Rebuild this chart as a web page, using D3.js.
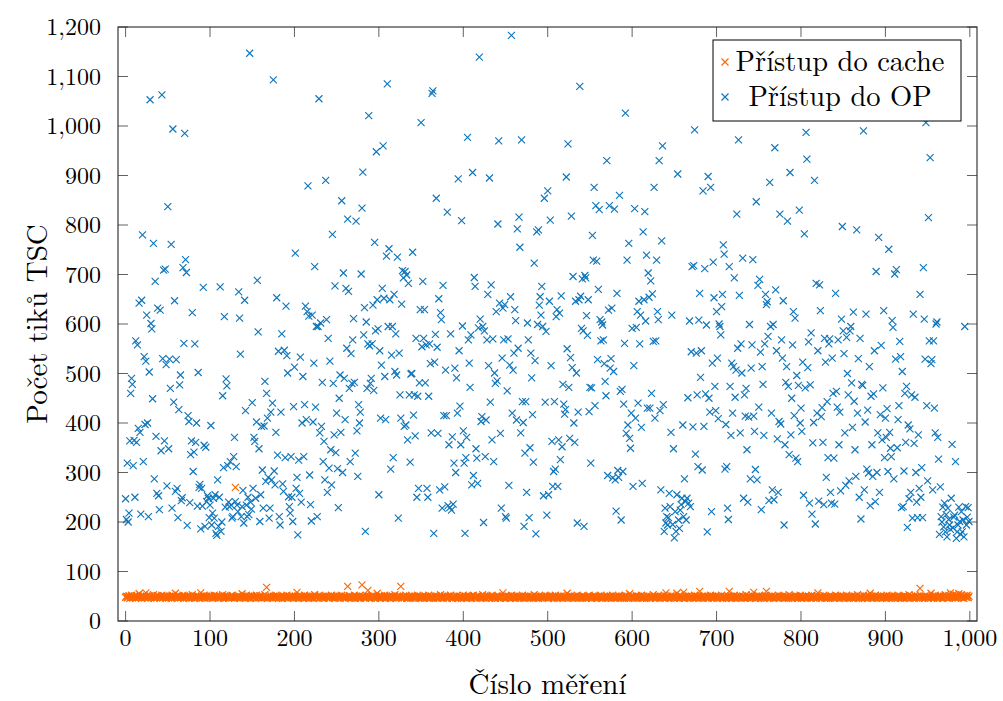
<!DOCTYPE html>
<html>
<head>
<meta charset="utf-8">
<script src="https://cdn.jsdelivr.net/npm/d3@7"></script>
<style>
	body {
		margin: 0;
		background: #fff;
	}

	.frame {
		fill: none;
		stroke: #262626;
		stroke-width: 1.1px;
	}

	.tick-mark {
		stroke: #505050;
		stroke-width: 0.9px;
	}

	.cross {
		fill: none;
		stroke-width: 1.15px;
	}

	.legend-box {
		fill: #fff;
		stroke: #000;
		stroke-width: 1px;
	}
</style>
</head>
<body>
<div id="chart"></div>
<script>
	// TSC ticks per measurement, index = measurement number
	const cacheTsc = [
		48,50,47,49,51,46,48,52,47,49,50,48,46,51,49,47,55,48,50,46,49,52,48,47,57,50,46,48,49,51,47,48,50,53,46,49,48,47,51,50,48,46,49,52,47,48,50,49,46,51,
		48,47,50,49,46,52,48,50,47,56,49,48,46,51,50,47,49,48,52,46,50,48,47,49,51,46,48,50,47,53,49,48,46,50,47,51,48,49,46,57,50,47,48,52,46,49,50,47,48,51,
		47,49,50,46,48,52,47,49,51,48,46,50,47,49,48,53,46,50,48,47,51,49,46,48,50,47,52,48,49,46,270,48,50,47,51,46,49,48,55,47,50,48,46,52,49,47,50,48,46,51,
		49,47,48,50,46,52,48,49,47,51,50,46,48,49,47,53,48,68,46,50,49,47,51,48,46,50,49,47,52,48,50,46,49,48,47,51,46,50,49,48,47,52,46,49,50,48,47,51,49,46,
		48,50,47,58,49,46,51,48,50,47,49,46,52,48,47,50,49,46,51,48,47,50,48,46,53,49,47,48,50,46,52,49,48,47,50,46,49,51,48,47,50,46,48,49,52,47,48,50,46,49,
		51,47,48,50,46,49,52,48,47,50,46,49,48,70,47,51,50,46,48,49,47,52,46,50,48,49,47,51,46,48,73,50,47,49,46,52,48,62,50,47,49,46,51,48,50,47,46,49,56,48,
		50,47,46,51,49,48,47,52,46,50,48,49,47,51,46,48,50,47,49,53,46,48,50,47,49,51,70,46,48,50,47,49,52,46,48,47,50,49,46,51,48,47,50,46,49,48,52,47,50,46,
		49,48,47,51,46,50,48,49,47,52,46,48,50,47,49,46,51,48,50,47,46,49,48,53,47,50,46,48,51,49,47,46,50,48,49,52,47,46,48,50,49,47,51,46,48,50,47,49,46,48,
		52,47,49,50,46,48,51,47,49,48,46,50,52,47,48,49,46,51,50,47,48,46,49,53,47,50,48,46,51,49,47,48,50,46,52,48,49,47,46,50,48,51,47,49,46,48,50,57,47,49,
		46,51,48,50,47,49,46,52,48,47,50,49,46,51,48,47,50,46,49,48,52,47,46,50,48,49,47,51,46,48,50,47,49,46,53,48,50,47,49,46,51,48,47,50,46,49,48,52,47,50,
		48,46,49,51,47,48,50,46,49,52,47,48,46,50,49,47,51,48,46,50,49,47,48,56,46,50,49,47,51,48,46,49,50,47,48,52,46,49,48,47,50,46,51,48,49,47,46,50,48,52,
		47,49,46,48,50,47,51,49,46,48,50,47,49,52,46,48,47,50,49,46,51,48,47,49,50,46,48,52,47,49,46,50,48,47,51,49,46,48,50,47,49,46,52,48,50,47,46,55,49,48,
		50,46,48,49,47,51,46,50,48,49,47,52,46,48,50,47,49,46,51,48,50,47,46,49,48,53,47,50,46,48,49,51,47,46,50,48,49,47,52,46,57,48,50,47,49,46,51,48,50,47,
		46,49,48,56,47,50,46,52,48,49,47,58,46,50,48,49,47,51,46,48,50,47,49,46,52,48,47,50,49,46,60,48,47,50,46,49,51,48,47,50,46,49,48,52,47,50,46,49,48,51,
		47,46,50,48,49,47,52,46,48,50,47,49,46,51,48,60,47,50,46,49,48,52,47,46,50,49,48,47,51,46,48,50,47,49,46,53,48,47,50,49,46,48,52,47,58,49,46,50,48,47,
		51,49,46,48,50,47,49,46,52,60,48,47,50,46,49,48,51,47,46,50,49,48,47,52,46,50,48,49,47,51,46,48,50,47,49,46,53,48,50,47,46,49,48,51,47,50,46,49,48,52,
		47,46,50,48,49,47,51,46,48,50,47,49,46,52,48,47,50,49,46,51,57,48,47,50,46,49,48,52,47,50,46,48,49,47,51,46,50,48,49,47,46,52,48,50,47,49,46,51,48,47,
		50,46,49,48,52,47,50,46,48,49,47,51,46,48,50,47,49,53,46,48,50,47,49,46,52,48,47,50,49,46,51,48,56,47,50,46,49,48,52,47,46,50,48,49,47,51,46,48,50,47,
		49,46,52,48,47,50,49,46,51,48,47,50,46,49,48,52,47,50,46,48,49,47,51,46,50,48,49,47,53,46,48,50,47,49,46,52,48,47,50,49,46,66,48,50,47,49,46,51,48,50,
		47,46,49,48,56,47,50,46,48,52,49,47,46,50,48,51,49,47,46,50,48,53,47,49,46,51,48,57,50,47,49,54,48,46,52,50,47,55,49,48,53,47,50,46,51,49,48,52,47,50
	];

	const opTsc = [
		247,205,319,200,218,364,460,490,478,314,365,250,566,361,558,389,642,381,216,648,780,322,534,397,525,618,400,211,503,1053,601,590,449,763,287,686,373,258,632,253,225,628,344,1063,530,709,364,711,518,273,
		837,348,529,470,761,228,994,442,647,262,528,268,209,427,477,497,243,249,714,561,985,730,704,193,415,403,239,336,364,623,302,341,560,361,400,232,502,270,276,186,268,232,674,355,191,351,241,253,248,209,
		234,395,194,218,248,208,255,177,173,285,191,250,675,181,200,455,310,615,230,489,475,314,240,231,322,234,208,211,332,371,241,312,234,221,665,612,539,211,231,264,198,648,425,234,211,250,215,1147,240,226,
		441,268,371,363,248,402,688,584,348,201,255,393,305,228,394,484,282,460,410,290,208,228,422,285,440,1093,303,275,381,653,335,545,211,194,422,580,277,262,547,330,636,536,501,251,231,218,332,250,201,433,
		513,743,268,290,174,325,258,533,240,400,494,332,437,636,407,625,879,616,295,235,202,618,402,521,716,432,595,211,595,1055,380,602,393,482,322,363,285,890,609,260,571,309,525,346,275,781,480,376,677,340,
		420,308,229,450,497,381,849,300,703,490,407,672,551,812,666,470,322,540,480,568,611,482,339,808,384,292,437,400,422,701,834,907,578,633,181,604,470,560,1021,556,480,490,560,638,466,765,586,948,649,590,
		255,546,410,517,672,960,652,494,407,737,1085,595,752,649,307,537,595,330,660,504,580,497,735,208,541,457,410,640,708,693,393,706,396,699,366,682,457,321,499,500,745,416,457,374,571,250,454,268,481,629,
		1007,554,686,571,629,481,558,268,250,454,560,520,380,1066,1071,177,523,579,854,553,379,651,265,623,609,228,678,415,271,507,415,826,233,356,229,580,224,372,236,319,511,300,491,420,893,546,434,356,809,596,
		384,319,177,330,371,977,568,521,472,578,275,906,294,694,676,348,329,278,592,1139,610,403,413,595,199,586,332,406,568,660,516,895,442,679,366,570,322,501,480,625,485,802,970,642,379,228,531,632,568,639,
		211,208,465,570,274,517,655,1183,420,507,541,629,607,406,792,551,816,755,380,972,443,401,191,339,443,260,602,568,209,350,541,491,417,321,723,526,176,786,599,790,638,655,618,676,595,253,854,442,585,214,
		869,255,646,810,516,363,272,302,443,307,615,629,272,366,622,326,657,352,478,438,418,427,897,550,964,472,369,532,818,512,696,400,361,646,501,198,422,649,1080,656,591,691,586,191,698,693,617,577,649,423,
		472,319,471,779,729,876,435,839,727,528,670,831,609,566,604,598,568,520,484,455,930,294,628,839,511,530,632,289,504,832,285,222,662,304,290,860,464,204,468,302,438,561,1026,379,729,396,763,369,349,420,
		591,272,516,833,410,593,625,440,646,560,618,391,278,786,649,827,606,739,430,703,654,430,687,460,661,565,876,410,566,729,625,609,930,425,265,768,960,437,181,228,198,211,194,209,258,231,381,618,195,348,
		168,221,181,255,903,204,187,224,235,248,396,211,287,241,204,248,451,238,606,231,544,716,392,718,992,337,541,457,312,608,662,492,546,305,869,393,712,459,598,180,898,450,422,876,221,521,725,653,474,425,
		625,531,409,600,595,578,635,660,760,741,307,397,312,228,205,716,474,375,521,420,514,693,452,507,822,551,972,658,380,560,501,733,248,457,414,470,346,240,412,599,287,511,558,730,414,383,306,847,285,678,
		432,690,543,225,514,478,375,560,660,639,645,575,243,886,595,420,265,599,245,956,669,546,368,260,403,822,398,568,531,647,194,356,482,514,808,474,336,906,376,450,558,625,415,612,329,496,322,476,830,400,
		430,383,523,254,782,471,987,933,512,564,238,477,582,216,360,401,890,196,682,420,546,242,679,627,413,431,361,235,571,523,290,443,330,560,570,260,238,531,460,329,236,662,464,432,568,356,422,263,610,797,
		586,540,380,274,573,500,457,283,586,595,481,391,624,444,346,292,790,420,530,250,571,206,478,476,990,265,402,620,307,426,299,514,233,454,356,292,459,546,241,706,300,380,775,260,417,557,366,471,627,330,
		410,371,429,302,751,381,349,332,607,593,287,701,529,710,350,407,435,565,534,229,504,231,303,460,361,474,189,396,247,388,260,457,208,620,359,452,300,240,209,376,268,660,250,310,209,714,610,529,1007,435,
		283,815,566,936,520,528,265,566,430,380,600,604,371,327,175,271,211,200,230,190,238,180,215,170,228,205,194,185,248,357,188,210,214,322,167,180,194,230,201,175,221,180,204,170,595,231,194,210,229,201
	];

	const xTicks = [0, 100, 200, 300, 400, 500, 600, 700, 800, 900, 1000];
	const yTicks = [0, 100, 200, 300, 400, 500, 600, 700, 800, 900, 1000, 1100, 1200];
	const seriesNames = ["Přístup do cache", "Přístup do OP"];
	const seriesColors = ["#ff6600", "#1076ba"];
	const xLabel = "Číslo měření";
	const yLabel = "Počet tiků TSC";

	const serif = "'Latin Modern Roman', 'CMU Serif', 'Liberation Serif', 'DejaVu Serif', serif";

	function crossPath(r) {
		return "M" + (-r) + "," + (-r) + "L" + r + "," + r +
			"M" + (-r) + "," + r + "L" + r + "," + (-r);
	}

	function label(parent, size) {
		return parent.append("text")
			.attr("font-family", serif)
			.style("font-family", serif)
			.style("font-size", size + "px")
			.style("fill", "#000");
	}

	function TscScatter() {
		var margin = {top: 27, right: 26, bottom: 80, left: 118};
		var width = 1003 - margin.left - margin.right;
		var height = 701 - margin.top - margin.bottom;
		var tickLen = 10;
		var markR = 3.5;

		var xScale = d3.scaleLinear().domain([-9, 1008.5]).range([0, width]);
		var yScale = d3.scaleLinear().domain([0, 1200]).range([height, 0]);
		var fmt = d3.format(",");

		function chart(selection) {
			selection.each(function() {
				const svg = d3.select(this);
				const g = svg.append("g")
					.attr("transform", "translate(" + margin.left + "," + margin.top + ")");

				g.append("defs").append("clipPath")
					.attr("id", "plot-clip")
					.append("rect")
					.attr("width", width)
					.attr("height", height);

				// data
				const marks = g.append("g").attr("clip-path", "url(#plot-clip)");
				[cacheTsc, opTsc].forEach(function(values, k) {
					marks.append("g")
						.selectAll("path")
						.data(values)
						.join("path")
						.attr("class", "cross")
						.attr("d", crossPath(markR))
						.attr("transform", (d, i) => "translate(" + xScale(i) + "," + yScale(d) + ")")
						.style("stroke", seriesColors[k]);
				});

				// ticks on all four sides, pointing in
				const ticks = g.append("g");
				xTicks.forEach(function(t) {
					const x = xScale(t);
					ticks.append("line").attr("class", "tick-mark")
						.attr("x1", x).attr("x2", x).attr("y1", height).attr("y2", height - tickLen);
					ticks.append("line").attr("class", "tick-mark")
						.attr("x1", x).attr("x2", x).attr("y1", 0).attr("y2", tickLen);
					label(g, 24)
						.attr("x", x)
						.attr("y", height + 25)
						.attr("text-anchor", "middle")
						.text(fmt(t));
				});
				yTicks.forEach(function(t) {
					const y = yScale(t);
					ticks.append("line").attr("class", "tick-mark")
						.attr("x1", 0).attr("x2", tickLen).attr("y1", y).attr("y2", y);
					ticks.append("line").attr("class", "tick-mark")
						.attr("x1", width).attr("x2", width - tickLen).attr("y1", y).attr("y2", y);
					label(g, 24)
						.attr("x", -17)
						.attr("y", y)
						.attr("dy", "0.34em")
						.attr("text-anchor", "end")
						.text(fmt(t));
				});

				g.append("rect")
					.attr("class", "frame")
					.attr("width", width)
					.attr("height", height);

				label(g, 29)
					.attr("x", width / 2)
					.attr("y", height + 73)
					.attr("text-anchor", "middle")
					.text(xLabel);

				label(g, 29)
					.attr("transform", "translate(" + (-71) + "," + (height / 2) + ") rotate(-90)")
					.attr("text-anchor", "middle")
					.text(yLabel);

				g.append("g")
					.attr("transform", "translate(" + (713 - margin.left) + "," + (40 - margin.top) + ")")
					.call(TscLegend());
			});
		}

		function TscLegend() {
			var boxW = 248, boxH = 81;
			function legend(selection) {
				selection.each(function() {
					const lg = d3.select(this);
					lg.append("rect")
						.attr("class", "legend-box")
						.attr("width", boxW)
						.attr("height", boxH);
					seriesNames.forEach(function(name, k) {
						const cy = 22 + k * 35;
						lg.append("path")
							.attr("class", "cross")
							.attr("d", crossPath(markR))
							.attr("transform", "translate(12," + cy + ")")
							.style("stroke", seriesColors[k]);
						label(lg, 28.5)
							.attr("x", 127)
							.attr("y", cy)
							.attr("dy", "0.3em")
							.attr("text-anchor", "middle")
							.text(name);
					});
				});
			}
			return legend;
		}

		return chart;
	}

	d3.select("#chart")
		.append("svg")
		.attr("width", 1003)
		.attr("height", 701)
		.call(TscScatter());
</script>
</body>
</html>
